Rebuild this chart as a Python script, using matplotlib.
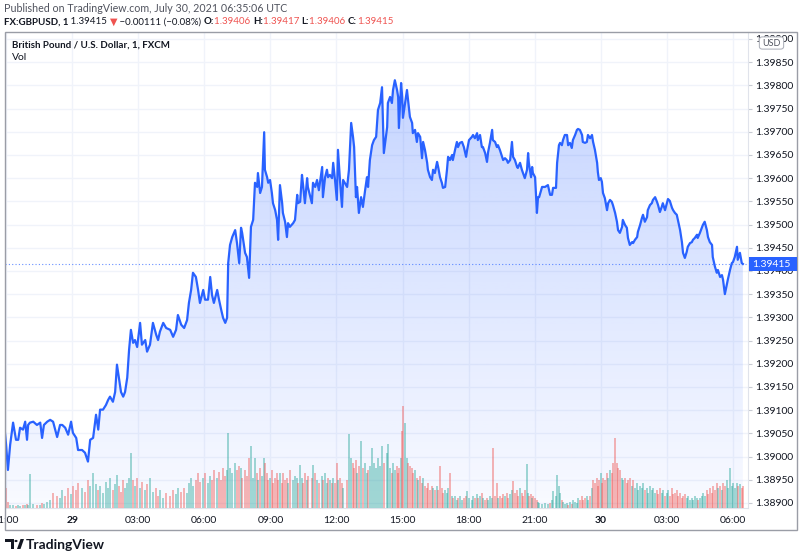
import numpy as np
import pandas as pd
import matplotlib
matplotlib.use("Agg")
import matplotlib.pyplot as plt
import matplotlib.dates as mdates
from matplotlib.colors import to_rgb
from matplotlib.patches import Rectangle, Polygon, Circle, FancyBboxPatch

# GBPUSD 1-minute chart, readings every few minutes (minutes after 28 Jul 21:00 UTC)
start = pd.Timestamp("2021-07-28 21:00")

minutes = [
    -3, 0, 5, 11, 19, 27, 33, 38, 46, 52,
    57, 60, 65, 74, 84, 93, 98, 103, 112, 120,
    128, 139, 147, 153, 161, 169, 177, 182, 191, 196,
    207, 215, 223, 229, 237, 245, 251, 256, 264, 272,
    278, 283, 291, 297, 302, 308, 313, 319, 324, 330,
    335, 340, 346, 351, 357, 365, 370, 379, 384, 392,
    400, 409, 414, 419, 428, 436, 447, 455, 463, 468,
    477, 485, 493, 498, 504, 509, 517, 523, 528, 537,
    542, 550, 556, 561, 566, 575, 580, 586, 591, 597,
    602, 605, 610, 616, 624, 629, 635, 640, 643, 651,
    656, 662, 667, 673, 678, 684, 686, 692, 697, 703,
    705, 711, 714, 719, 724, 727, 733, 738, 741, 746,
    752, 754, 760, 765, 768, 773, 782, 787, 793, 795,
    801, 806, 809, 814, 820, 822, 833, 836, 842, 847,
    852, 861, 863, 869, 874, 877, 882, 888, 891, 896,
    901, 904, 910, 915, 918, 929, 934, 940, 945, 948,
    953, 956, 961, 967, 972, 978, 983, 986, 991, 997,
    1002, 1008, 1013, 1019, 1024, 1029, 1038, 1040, 1046, 1051,
    1054, 1059, 1065, 1068, 1070, 1076, 1079, 1081, 1087, 1092,
    1095, 1100, 1106, 1108, 1114, 1119, 1122, 1128, 1133, 1136,
    1141, 1147, 1149, 1155, 1160, 1163, 1168, 1174, 1177, 1182,
    1187, 1190, 1196, 1201, 1204, 1209, 1215, 1217, 1223, 1228,
    1231, 1236, 1242, 1247, 1253, 1256, 1261, 1269, 1272, 1277,
    1283, 1285, 1291, 1296, 1299, 1305, 1310, 1313, 1318, 1324,
    1326, 1332, 1337, 1340, 1345, 1351, 1354, 1359, 1364, 1367,
    1373, 1378, 1381, 1386, 1392, 1394, 1400, 1405, 1408, 1413,
    1419, 1422, 1424, 1430, 1433, 1435, 1441, 1446, 1449, 1452,
    1460, 1468, 1476, 1482, 1487, 1490, 1498, 1501, 1506, 1509,
    1514, 1517, 1522, 1528, 1531, 1536, 1541, 1544, 1550, 1555,
    1558, 1563, 1569, 1571, 1577, 1582, 1585, 1591, 1596, 1599,
    1604, 1610, 1612, 1615, 1620, 1623, 1626, 1631, 1637, 1640,
    1645, 1650, 1653, 1659, 1664, 1667, 1672, 1678, 1680, 1686,
    1691, 1694, 1699, 1705, 1708, 1713, 1719, 1721, 1727, 1732,
    1735, 1740, 1746, 1748, 1754, 1759, 1762, 1768, 1773, 1776,
    1781, 1786, 1789, 1795, 1800, 1803, 1808, 1814, 1817, 1822,
    1827, 1830, 1836, 1841, 1844, 1849, 1854, 1857, 1863, 1868,
    1871, 1876, 1882, 1884, 1890, 1895, 1898, 1903, 1909, 1912,
    1917, 1923, 1925, 1931, 1936, 1939, 1945, 1950, 1953, 1958,
    1964, 1966, 1972, 1977, 1980, 1985, 1991, 1993, 1999, 2004,
    2007,
]

prices = [
    1.39051, 1.39025, 1.38971, 1.39025, 1.39073, 1.39036, 1.39036, 1.39062, 1.39058, 1.39075,
    1.39036, 1.39068, 1.39073, 1.39075, 1.39068, 1.39073, 1.39040, 1.39068, 1.39075, 1.39079,
    1.39075, 1.39042, 1.39068, 1.39068, 1.39062, 1.39047, 1.39075, 1.39051, 1.39040, 1.39014,
    1.39014, 1.39008, 1.38989, 1.39036, 1.39040, 1.39090, 1.39058, 1.39101, 1.39101, 1.39111,
    1.39122, 1.39129, 1.39118, 1.39139, 1.39198, 1.39165, 1.39139, 1.39129, 1.39139, 1.39170,
    1.39230, 1.39273, 1.39245, 1.39251, 1.39236, 1.39288, 1.39241, 1.39251, 1.39226, 1.39241,
    1.39288, 1.39262, 1.39251, 1.39269, 1.39288, 1.39277, 1.39273, 1.39258, 1.39273, 1.39305,
    1.39284, 1.39277, 1.39294, 1.39331, 1.39359, 1.39396, 1.39387, 1.39359, 1.39331, 1.39359,
    1.39338, 1.39338, 1.39387, 1.39348, 1.39331, 1.39359, 1.39338, 1.39316, 1.39299, 1.39288,
    1.39299, 1.39417, 1.39456, 1.39473, 1.39488, 1.39460, 1.39417, 1.39493, 1.39482, 1.39439,
    1.39430, 1.39385, 1.39495, 1.39510, 1.39590, 1.39581, 1.39611, 1.39568, 1.39581, 1.39699,
    1.39618, 1.39602, 1.39590, 1.39596, 1.39568, 1.39546, 1.39531, 1.39510, 1.39467, 1.39585,
    1.39546, 1.39525, 1.39506, 1.39473, 1.39503, 1.39495, 1.39503, 1.39510, 1.39564, 1.39546,
    1.39549, 1.39607, 1.39585, 1.39546, 1.39600, 1.39581, 1.39546, 1.39590, 1.39581, 1.39596,
    1.39574, 1.39624, 1.39559, 1.39602, 1.39618, 1.39602, 1.39607, 1.39600, 1.39633, 1.39596,
    1.39553, 1.39661, 1.39590, 1.39538, 1.39596, 1.39581, 1.39618, 1.39719, 1.39689, 1.39667,
    1.39559, 1.39581, 1.39525, 1.39559, 1.39538, 1.39574, 1.39602, 1.39581, 1.39639, 1.39671,
    1.39682, 1.39689, 1.39747, 1.39762, 1.39796, 1.39654, 1.39710, 1.39762, 1.39775, 1.39762,
    1.39790, 1.39811, 1.39790, 1.39775, 1.39708, 1.39805, 1.39775, 1.39730, 1.39762, 1.39790,
    1.39768, 1.39732, 1.39719, 1.39697, 1.39704, 1.39678, 1.39697, 1.39689, 1.39643, 1.39678,
    1.39661, 1.39633, 1.39618, 1.39602, 1.39596, 1.39618, 1.39611, 1.39635, 1.39624, 1.39602,
    1.39590, 1.39579, 1.39581, 1.39618, 1.39646, 1.39639, 1.39650, 1.39639, 1.39661, 1.39678,
    1.39667, 1.39676, 1.39678, 1.39667, 1.39646, 1.39661, 1.39682, 1.39689, 1.39693, 1.39686,
    1.39697, 1.39682, 1.39693, 1.39667, 1.39667, 1.39654, 1.39635, 1.39656, 1.39676, 1.39704,
    1.39682, 1.39678, 1.39667, 1.39671, 1.39661, 1.39646, 1.39639, 1.39643, 1.39639, 1.39633,
    1.39639, 1.39678, 1.39646, 1.39639, 1.39624, 1.39622, 1.39633, 1.39618, 1.39611, 1.39600,
    1.39618, 1.39654, 1.39633, 1.39602, 1.39624, 1.39611, 1.39602, 1.39525, 1.39559, 1.39559,
    1.39581, 1.39581, 1.39585, 1.39564, 1.39564, 1.39579, 1.39579, 1.39633, 1.39671, 1.39676,
    1.39671, 1.39682, 1.39693, 1.39693, 1.39671, 1.39676, 1.39665, 1.39682, 1.39693, 1.39704,
    1.39706, 1.39704, 1.39693, 1.39678, 1.39676, 1.39678, 1.39693, 1.39686, 1.39693, 1.39678,
    1.39661, 1.39633, 1.39613, 1.39596, 1.39600, 1.39592, 1.39568, 1.39557, 1.39531, 1.39546,
    1.39553, 1.39549, 1.39542, 1.39525, 1.39506, 1.39488, 1.39482, 1.39495, 1.39510, 1.39499,
    1.39493, 1.39471, 1.39456, 1.39462, 1.39460, 1.39467, 1.39473, 1.39484, 1.39499, 1.39514,
    1.39521, 1.39506, 1.39516, 1.39531, 1.39542, 1.39546, 1.39553, 1.39559, 1.39549, 1.39542,
    1.39527, 1.39538, 1.39546, 1.39531, 1.39546, 1.39555, 1.39551, 1.39536, 1.39531, 1.39525,
    1.39521, 1.39510, 1.39488, 1.39462, 1.39439, 1.39428, 1.39441, 1.39452, 1.39460, 1.39462,
    1.39467, 1.39471, 1.39478, 1.39471, 1.39482, 1.39493, 1.39499, 1.39506, 1.39488, 1.39473,
    1.39462, 1.39456, 1.39430, 1.39409, 1.39396, 1.39402, 1.39387, 1.39391, 1.39381, 1.39350,
    1.39374, 1.39381, 1.39402, 1.39417, 1.39419, 1.39430, 1.39452, 1.39424, 1.39439, 1.39417,
    1.39415,
]

volumes = [
    60, 20, 6, 3, 3, 2, 3, 2, 3, 3,
    4, 3, 34, 4, 3, 3, 5, 4, 6, 8,
    15, 12, 10, 18, 12, 20, 14, 22, 18, 25,
    20, 16, 28, 22, 35, 24, 18, 22, 15, 26,
    20, 30, 18, 24, 33, 22, 16, 28, 20, 25,
    30, 55, 28, 22, 30, 20, 26, 18, 24, 30,
    16, 20, 12, 18, 10, 15, 12, 18, 14, 20,
    16, 20, 15, 25, 30, 22, 28, 35, 26, 30,
    35, 25, 32, 28, 38, 30, 36, 28, 40, 32,
    38, 75, 40, 35, 45, 38, 42, 40, 30, 38,
    32, 50, 62, 30, 50, 35, 28, 40, 32, 50,
    45, 35, 28, 30, 38, 25, 30, 35, 28, 35,
    25, 35, 28, 30, 25, 38, 28, 32, 30, 25,
    43, 30, 25, 35, 28, 32, 30, 43, 35, 28,
    25, 32, 28, 35, 25, 30, 28, 25, 30, 25,
    45, 28, 30, 25, 20, 28, 74, 50, 45, 40,
    48, 35, 42, 67, 40, 45, 35, 38, 42, 60,
    45, 40, 50, 42, 62, 45, 55, 64, 40, 35,
    45, 38, 42, 35, 40, 50, 77, 102, 85, 50,
    45, 42, 40, 35, 38, 30, 28, 32, 25, 30,
    22, 20, 25, 18, 22, 20, 18, 22, 18, 42,
    20, 15, 18, 15, 20, 35, 12, 10, 12, 8,
    10, 12, 8, 10, 12, 17, 10, 8, 12, 10,
    14, 10, 12, 15, 10, 8, 10, 8, 12, 10,
    60, 12, 25, 10, 12, 10, 14, 12, 15, 10,
    14, 18, 27, 15, 18, 12, 20, 15, 12, 18,
    44, 15, 12, 14, 10, 12, 10, 8, 6, 5,
    4, 5, 4, 5, 8, 17, 12, 33, 22, 15,
    8, 6, 4, 5, 3, 6, 4, 8, 6, 5,
    10, 8, 12, 8, 10, 12, 8, 12, 20, 28,
    25, 30, 22, 28, 35, 25, 30, 28, 35, 30,
    38, 35, 45, 70, 45, 40, 38, 30, 28, 30,
    25, 28, 30, 22, 28, 20, 25, 18, 22, 20,
    25, 18, 20, 15, 22, 18, 20, 15, 18, 14,
    20, 15, 18, 12, 15, 18, 12, 20, 14, 15,
    18, 12, 15, 10, 12, 14, 10, 12, 8, 10,
    8, 12, 10, 8, 10, 12, 15, 12, 18, 14,
    20, 15, 22, 18, 25, 20, 22, 18, 25, 22,
    28, 20, 40, 22, 25, 20, 25, 22, 24, 20,
    22,
]

tick_times = ["2021-07-28 21:00", "2021-07-29 00:00", "2021-07-29 03:00", "2021-07-29 06:00",
              "2021-07-29 09:00", "2021-07-29 12:00", "2021-07-29 15:00", "2021-07-29 18:00",
              "2021-07-29 21:00", "2021-07-30 00:00", "2021-07-30 03:00", "2021-07-30 06:00"]
tick_labels = ["21:00", "29", "03:00", "06:00", "09:00", "12:00", "15:00", "18:00",
               "21:00", "30", "03:00", "06:00"]
price_ticks = [1.38900, 1.38950, 1.39000, 1.39050, 1.39100, 1.39150, 1.39200, 1.39250,
               1.39300, 1.39350, 1.39400, 1.39450, 1.39500, 1.39550, 1.39600, 1.39650,
               1.39700, 1.39750, 1.39800, 1.39850, 1.39900]
last_price = 1.39415

assert len(minutes) == len(prices) == len(volumes)

BLUE = "#2962FF"
UP = "#26a69a"
DOWN = "#ef5350"
TXT = "#131722"

plt.rcParams['font.family'] = ['Lato', 'DejaVu Sans']

W, H = 800, 558
fig = plt.figure(figsize=(W / 100, H / 100), dpi=100)
fig.patch.set_facecolor("white")


def fx(px):
    return px / W


def fy(py):
    return 1 - py / H


times = start + pd.to_timedelta(minutes, unit="min")
tnum = mdates.date2num(times.to_pydatetime())
xmin = mdates.date2num((start - pd.Timedelta(minutes=3)).to_pydatetime())
xmax = mdates.date2num((start + pd.Timedelta(minutes=2021)).to_pydatetime())
ymin, ymax = 1.38889, 1.39915

rect = [fx(5), fy(508), (748 - 5) / W, (508 - 32) / H]
ax = fig.add_axes(rect)
ax_vol = fig.add_axes(rect, sharex=ax)
ax_line = fig.add_axes(rect, sharex=ax)
for a in (ax_vol, ax_line):
    a.patch.set_visible(False)
    a.axis("off")

# gradient area under the price line
fill = ax.fill_between(tnum, prices, ymin, facecolor="none", edgecolor="none")
grad = np.zeros((256, 1, 4))
grad[..., :3] = to_rgb(BLUE)
grad[..., 3] = np.linspace(0.27, 0.03, 256)[:, None]
im = ax.imshow(grad, extent=[xmin, xmax, ymin, max(prices)], aspect="auto",
               origin="upper", zorder=1, interpolation="bilinear")
im.set_clip_path(fill.get_paths()[0], transform=ax.transData)

ax.set_xlim(xmin, xmax)
ax.set_ylim(ymin, ymax)
ax.grid(True, color="#f0f3fa", lw=1, zorder=0)
ax.set_axisbelow(True)

tick_num = mdates.date2num(pd.to_datetime(tick_times).to_pydatetime())
ax.set_xticks(tick_num)
ax.set_xticklabels(tick_labels)
for lbl, s in zip(ax.get_xticklabels(), tick_labels):
    if len(s) == 2:
        lbl.set_fontweight("bold")
ax.set_yticks(price_ticks)
ax.set_yticklabels([f"{v:.5f}" for v in price_ticks])
ax.yaxis.tick_right()
ax.tick_params(axis="x", length=0, pad=6, labelsize=7.5, labelcolor=TXT)
ax.tick_params(axis="y", length=3, width=0.8, color="#c8cbd3", pad=2, labelsize=7.5, labelcolor=TXT)
for lbl in ax.get_yticklabels():
    lbl.set_horizontalalignment("left")
for side in ("top", "left"):
    ax.spines[side].set_visible(False)
for side in ("right", "bottom"):
    ax.spines[side].set_color("#e0e3eb")

# volume
colors = [UP] + [UP if prices[i] >= prices[i - 1] else DOWN for i in range(1, len(prices))]
ax_vol.bar(tnum, volumes, width=4.5 / 1440, color=colors, alpha=0.42, linewidth=0)
ax_vol.set_ylim(0, 476)
ax_vol.set_xlim(xmin, xmax)

# price line
ax_line.plot(tnum, prices, color=BLUE, lw=1.6, solid_joinstyle="round")
ax_line.axhline(last_price, color=BLUE, lw=0.8, ls=(0, (1, 2)), alpha=0.7)
ax_line.set_ylim(ymin, ymax)
ax_line.set_xlim(xmin, xmax)

# outer frame
fig.add_artist(Rectangle((fx(4.5), fy(530)), (797 - 4.5) / W, (530 - 31.5) / H,
                         transform=fig.transFigure, fill=False, edgecolor="#9a9da6", lw=1))

# last price marker on the price scale
ly = 271 - (last_price - 1.39400) / 0.0005 * 23.2
fig.add_artist(Rectangle((fx(749), fy(ly + 7)), 48 / W, 14 / H,
                         transform=fig.transFigure, facecolor=BLUE, edgecolor="none"))
fig.text(fx(752), fy(ly), f"{last_price:.5f}", color="white", fontsize=7.5,
         va="center", ha="left")

# currency box
fig.add_artist(FancyBboxPatch((fx(761), fy(48)), 21 / W, 10 / H,
                              boxstyle="round,pad=0.002,rounding_size=0.004",
                              transform=fig.transFigure, facecolor="white",
                              edgecolor="#b2b5be", lw=0.8))
fig.text(fx(771.5), fy(43), "USD", color="#50535e", fontsize=6.5, ha="center", va="center")

# header
fig.text(fx(4), fy(8), "Published on TradingView.com, July 30, 2021 06:35:06 UTC",
         fontsize=7.7, color="#50535e", va="center", ha="left")

renderer = fig.canvas.get_renderer()


def text_run(x, y, pieces, size=7.0):
    for s, color, weight in pieces:
        t = fig.text(fx(x), fy(y), s, color=color, fontweight=weight,
                     fontsize=size, va="center", ha="left")
        x += t.get_window_extent(renderer=renderer).width


text_run(4, 22, [
    ("FX:GBPUSD, 1", TXT, "bold"),
    (" 1.39415 ", TXT, "normal"),
    ("▼", DOWN, "normal"),
    (" \u22120.00111 (\u22120.08%) ", TXT, "normal"),
    ("O:", TXT, "bold"), ("1.39406 ", DOWN, "normal"),
    ("H:", TXT, "bold"), ("1.39417 ", DOWN, "normal"),
    ("L:", TXT, "bold"), ("1.39406 ", DOWN, "normal"),
    ("C:", TXT, "bold"), ("1.39415", DOWN, "normal"),
])

fig.text(fx(12), fy(45), "British Pound / U.S. Dollar, 1, FXCM", fontsize=7.0,
         fontweight="bold", color=TXT, va="center", ha="left")
fig.text(fx(12), fy(57), "Vol", fontsize=7.5, color=TXT, va="center", ha="left")

# TradingView logo
logo = dict(transform=fig.transFigure, facecolor=TXT, edgecolor="none")
fig.add_artist(Polygon([(fx(5), fy(539)), (fx(14), fy(539)), (fx(14), fy(549)),
                        (fx(11), fy(549)), (fx(11), fy(542)), (fx(5), fy(542))], **logo))
fig.add_artist(Circle((fx(16), fy(541)), 1.6 / W, **logo))
fig.add_artist(Polygon([(fx(17), fy(549)), (fx(20.5), fy(549)), (fx(24), fy(539)),
                        (fx(20.5), fy(539))], **logo))
fig.text(fx(26), fy(545), "TradingView", fontsize=10, fontweight="bold", color=TXT,
         va="center", ha="left")

fig.savefig("out.png", dpi=100, facecolor="white")
